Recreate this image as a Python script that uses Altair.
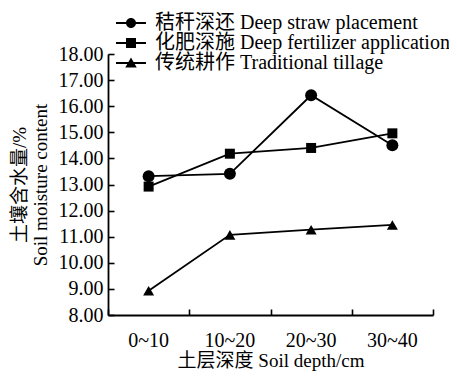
import altair as alt
import pandas as pd

depth = ["0~10", "10~20", "20~30", "30~40"]
series = [
    "秸秆深还 Deep straw placement",
    "化肥深施 Deep fertilizer application",
    "传统耕作 Traditional tillage",
]
straw = [13.32, 13.41, 16.42, 14.50]
fert = [12.92, 14.18, 14.40, 14.96]
trad = [8.93, 11.07, 11.27, 11.45]
y_ticks = [8, 9, 10, 11, 12, 13, 14, 15, 16, 17, 18]

rows = []
for s, vals in zip(series, [straw, fert, trad]):
    for d, v in zip(depth, vals):
        rows.append({"depth": d, "series": s, "value": v})
df = pd.DataFrame(rows)

FONT = "Liberation Serif, Noto Sans CJK SC"

xscale = alt.Scale(type="band", domain=depth, paddingInner=0, paddingOuter=0)
yscale = alt.Scale(domain=[8, 18], nice=False, zero=False)

base = alt.Chart(df)

x_main = alt.X("depth:N", scale=xscale, sort=depth,
               axis=alt.Axis(title="土层深度 Soil depth/cm", orient="bottom", labelAngle=0,
                             ticks=False, grid=False, labelPadding=15, titlePadding=1,
                             titleColor="black"))
y_main = alt.Y("value:Q", scale=yscale,
               axis=alt.Axis(title=["土壤含水量/%", "Soil moisture content"], orient="left",
                             values=y_ticks, format=".2f", ticks=False, grid=False,
                             labelPadding=5, titlePadding=8, titleLineHeight=21,
                             titleColor="black"))

lines = base.mark_line(color="black", strokeWidth=1.8).encode(
    x=x_main, y=y_main, detail="series:N")

x_tick = alt.X("depth:N", scale=xscale, sort=depth,
               axis=alt.Axis(title=None, orient="bottom", labels=False, domain=False,
                             grid=False, tickSize=6, tickBand="extent", offset=-6))
y_tick = alt.Y("value:Q", scale=yscale,
               axis=alt.Axis(title=None, orient="left", labels=False, domain=False,
                             grid=False, tickSize=6, offset=-6, values=y_ticks))

points = base.mark_point(filled=True, color="black", opacity=1).encode(
    x=x_tick, y=y_tick,
    shape=alt.Shape("series:N", scale=alt.Scale(domain=series, range=["circle", "square", "triangle-up"]), legend=None),
    size=alt.Size("series:N", scale=alt.Scale(type="ordinal", domain=series, range=[144, 100, 121]), legend=None),
)

LINE = "M-3,-0.2 L3,-0.2 L3,0.2 L-3,0.2 Z "
sym_circle = LINE + "M1,0 A1,1 0 1 1 -1,0 A1,1 0 1 1 1,0 Z"
sym_square = LINE + "M-1,-1 L1,-1 L1,1 L-1,1 Z"
sym_tri = LINE + "M0,-1.1 L1.15,0.9 L-1.15,0.9 Z"

legend_layer = base.mark_point(filled=True, color="black", opacity=0).encode(
    x=alt.X("depth:N", scale=xscale, sort=depth, axis=None),
    y=alt.Y("value:Q", scale=yscale, axis=None),
    shape=alt.Shape("series:N",
                    scale=alt.Scale(domain=series, range=[sym_circle, sym_square, sym_tri]),
                    legend=alt.Legend(title=None, orient="none", legendX=13, legendY=-41,
                                      symbolSize=100, symbolOpacity=1, symbolFillColor="black",
                                      symbolStrokeWidth=0, labelFont=FONT, labelFontSize=20,
                                      labelColor="black", labelOffset=14, rowPadding=0,
                                      padding=0, labelLimit=400)),
)

chart = alt.layer(lines, points, legend_layer).resolve_scale(
    shape="independent", size="independent"
).resolve_axis(x="independent", y="independent").properties(
    width=325, height=261, autosize="none",
    padding={"left": 100, "top": 46, "right": 16, "bottom": 57},
).configure_view(stroke=None).configure_axis(
    domainColor="black", domainWidth=1.8, tickColor="black", tickWidth=1.6,
    labelFont=FONT, labelFontSize=20, labelColor="black",
    titleFont=FONT, titleFontSize=19, titleColor="black", titleFontWeight="normal",
)

chart.save("out.html", embed_options={"renderer": "svg", "actions": False})
